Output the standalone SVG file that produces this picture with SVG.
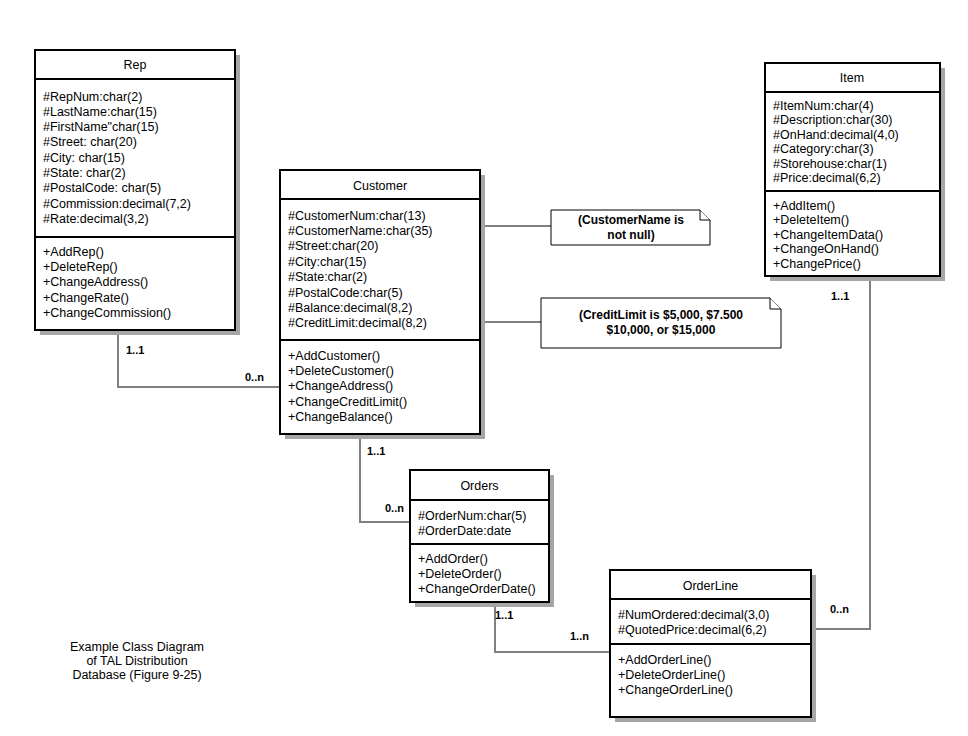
<svg xmlns="http://www.w3.org/2000/svg" width="968" height="736" viewBox="0 0 968 736">
<style>
.box{fill:#fff;stroke:#000;stroke-width:2}
.sh{fill:#a6a6a6}
.div{stroke:#000;stroke-width:2}
.t{font-family:"Liberation Sans",Arial,sans-serif;font-size:12.5px;fill:#000}
.c{text-anchor:middle}
.lb{font-family:"Liberation Sans",Arial,sans-serif;font-size:11px;font-weight:bold;fill:#000}
.nt{font-family:"Liberation Sans",Arial,sans-serif;font-size:12px;font-weight:bold;fill:#000;text-anchor:middle}
.note{fill:#fff;stroke:#000;stroke-width:1}
.con{fill:none;stroke:#808080;stroke-width:2}
</style>
<rect width="968" height="736" fill="#fff"/>
<g id="connectors">
<polyline class="con" points="118,330 118,387 280,387"/>
<line class="con" x1="480" y1="226" x2="551" y2="226"/>
<line class="con" x1="480" y1="322" x2="541" y2="322"/>
<polyline class="con" points="360,434 360,522 410,522"/>
<polyline class="con" points="495,602 495,652 610,652"/>
<polyline class="con" points="870,276 870,629 811,629"/>
<text class="lb" x="126" y="354">1..1</text>
<text class="lb" x="245" y="381">0..n</text>
<text class="lb" x="367" y="455">1..1</text>
<text class="lb" x="385" y="512">0..n</text>
<text class="lb" x="495" y="619">1..1</text>
<text class="lb" x="570" y="640">1..n</text>
<text class="lb" x="831" y="300">1..1</text>
<text class="lb" x="830" y="613">0..n</text>
</g>
<g id="Rep">
<rect class="sh" x="40" y="55" width="200" height="280"/>
<rect class="box" x="35" y="50" width="200" height="280"/>
<line class="div" x1="35" y1="79" x2="235" y2="79"/>
<line class="div" x1="35" y1="237" x2="235" y2="237"/>
<text class="t c" x="135" y="69">Rep</text>
<text class="t" x="43" y="100.5">#RepNum:char(2)</text>
<text class="t" x="43" y="115.8">#LastName:char(15)</text>
<text class="t" x="43" y="131.1">#FirstName"char(15)</text>
<text class="t" x="43" y="146.4">#Street: char(20)</text>
<text class="t" x="43" y="161.7">#City: char(15)</text>
<text class="t" x="43" y="177">#State: char(2)</text>
<text class="t" x="43" y="192.3">#PostalCode: char(5)</text>
<text class="t" x="43" y="207.6">#Commission:decimal(7,2)</text>
<text class="t" x="43" y="222.9">#Rate:decimal(3,2)</text>
<text class="t" x="43" y="255.5">+AddRep()</text>
<text class="t" x="43" y="270.9">+DeleteRep()</text>
<text class="t" x="43" y="286.3">+ChangeAddress()</text>
<text class="t" x="43" y="301.7">+ChangeRate()</text>
<text class="t" x="43" y="317.1">+ChangeCommission()</text>
</g>
<g id="Customer">
<rect class="sh" x="285" y="175" width="200" height="264"/>
<rect class="box" x="280" y="170" width="200" height="264"/>
<line class="div" x1="280" y1="199" x2="480" y2="199"/>
<line class="div" x1="280" y1="340" x2="480" y2="340"/>
<text class="t c" x="380" y="189.5">Customer</text>
<text class="t" x="288" y="219.5">#CustomerNum:char(13)</text>
<text class="t" x="288" y="234.9">#CustomerName:char(35)</text>
<text class="t" x="288" y="250.3">#Street:char(20)</text>
<text class="t" x="288" y="265.7">#City:char(15)</text>
<text class="t" x="288" y="281.1">#State:char(2)</text>
<text class="t" x="288" y="296.5">#PostalCode:char(5)</text>
<text class="t" x="288" y="311.9">#Balance:decimal(8,2)</text>
<text class="t" x="288" y="327.3">#CreditLimit:decimal(8,2)</text>
<text class="t" x="288" y="359.5">+AddCustomer()</text>
<text class="t" x="288" y="374.9">+DeleteCustomer()</text>
<text class="t" x="288" y="390.3">+ChangeAddress()</text>
<text class="t" x="288" y="405.7">+ChangeCreditLimit()</text>
<text class="t" x="288" y="421.1">+ChangeBalance()</text>
</g>
<g id="Item">
<rect class="sh" x="770" y="68" width="175" height="213"/>
<rect class="box" x="765" y="63" width="175" height="213"/>
<line class="div" x1="765" y1="92" x2="940" y2="92"/>
<line class="div" x1="765" y1="191" x2="940" y2="191"/>
<text class="t c" x="852" y="81.5">Item</text>
<text class="t" x="773" y="109.5">#ItemNum:char(4)</text>
<text class="t" x="773" y="124">#Description:char(30)</text>
<text class="t" x="773" y="138.5">#OnHand:decimal(4,0)</text>
<text class="t" x="773" y="153">#Category:char(3)</text>
<text class="t" x="773" y="167.5">#Storehouse:char(1)</text>
<text class="t" x="773" y="182">#Price:decimal(6,2)</text>
<text class="t" x="773" y="209.5">+AddItem()</text>
<text class="t" x="773" y="224">+DeleteItem()</text>
<text class="t" x="773" y="238.5">+ChangeItemData()</text>
<text class="t" x="773" y="253">+ChangeOnHand()</text>
<text class="t" x="773" y="267.5">+ChangePrice()</text>
</g>
<g id="Orders">
<rect class="sh" x="415" y="475" width="139" height="132"/>
<rect class="box" x="410" y="470" width="139" height="132"/>
<line class="div" x1="410" y1="500" x2="549" y2="500"/>
<line class="div" x1="410" y1="544" x2="549" y2="544"/>
<text class="t c" x="479.5" y="489.5">Orders</text>
<text class="t" x="418" y="519.5">#OrderNum:char(5)</text>
<text class="t" x="418" y="534.5">#OrderDate:date</text>
<text class="t" x="418" y="562.5">+AddOrder()</text>
<text class="t" x="418" y="577.5">+DeleteOrder()</text>
<text class="t" x="418" y="592.5">+ChangeOrderDate()</text>
</g>
<g id="OrderLine">
<rect class="sh" x="615" y="575" width="201" height="147"/>
<rect class="box" x="610" y="570" width="201" height="147"/>
<line class="div" x1="610" y1="599" x2="811" y2="599"/>
<line class="div" x1="610" y1="644" x2="811" y2="644"/>
<text class="t c" x="710.5" y="589.5">OrderLine</text>
<text class="t" x="618" y="618.5">#NumOrdered:decimal(3,0)</text>
<text class="t" x="618" y="633.5">#QuotedPrice:decimal(6,2)</text>
<text class="t" x="618" y="663.5">+AddOrderLine()</text>
<text class="t" x="618" y="678.5">+DeleteOrderLine()</text>
<text class="t" x="618" y="693.5">+ChangeOrderLine()</text>
</g>
<g id="note1">
<path class="note" d="M551,210 H700 L710,220 V245 H551 Z"/>
<path class="note" d="M700,210 V220 H710"/>
<text class="nt" x="631" y="224">(CustomerName is</text>
<text class="nt" x="631" y="239">not null)</text>
</g>
<g id="note2">
<path class="note" d="M541,298 H770 L781,309 V348 H541 Z"/>
<path class="note" d="M770,298 V309 H781"/>
<text class="nt" x="661" y="319">(CreditLimit is $5,000, $7.500</text>
<text class="nt" x="661" y="334">$10,000, or $15,000</text>
</g>
<g id="caption">
<text class="t c" x="137" y="651">Example Class Diagram</text>
<text class="t c" x="137" y="665">of TAL Distribution</text>
<text class="t c" x="137" y="679">Database (Figure 9-25)</text>
</g>
</svg>
